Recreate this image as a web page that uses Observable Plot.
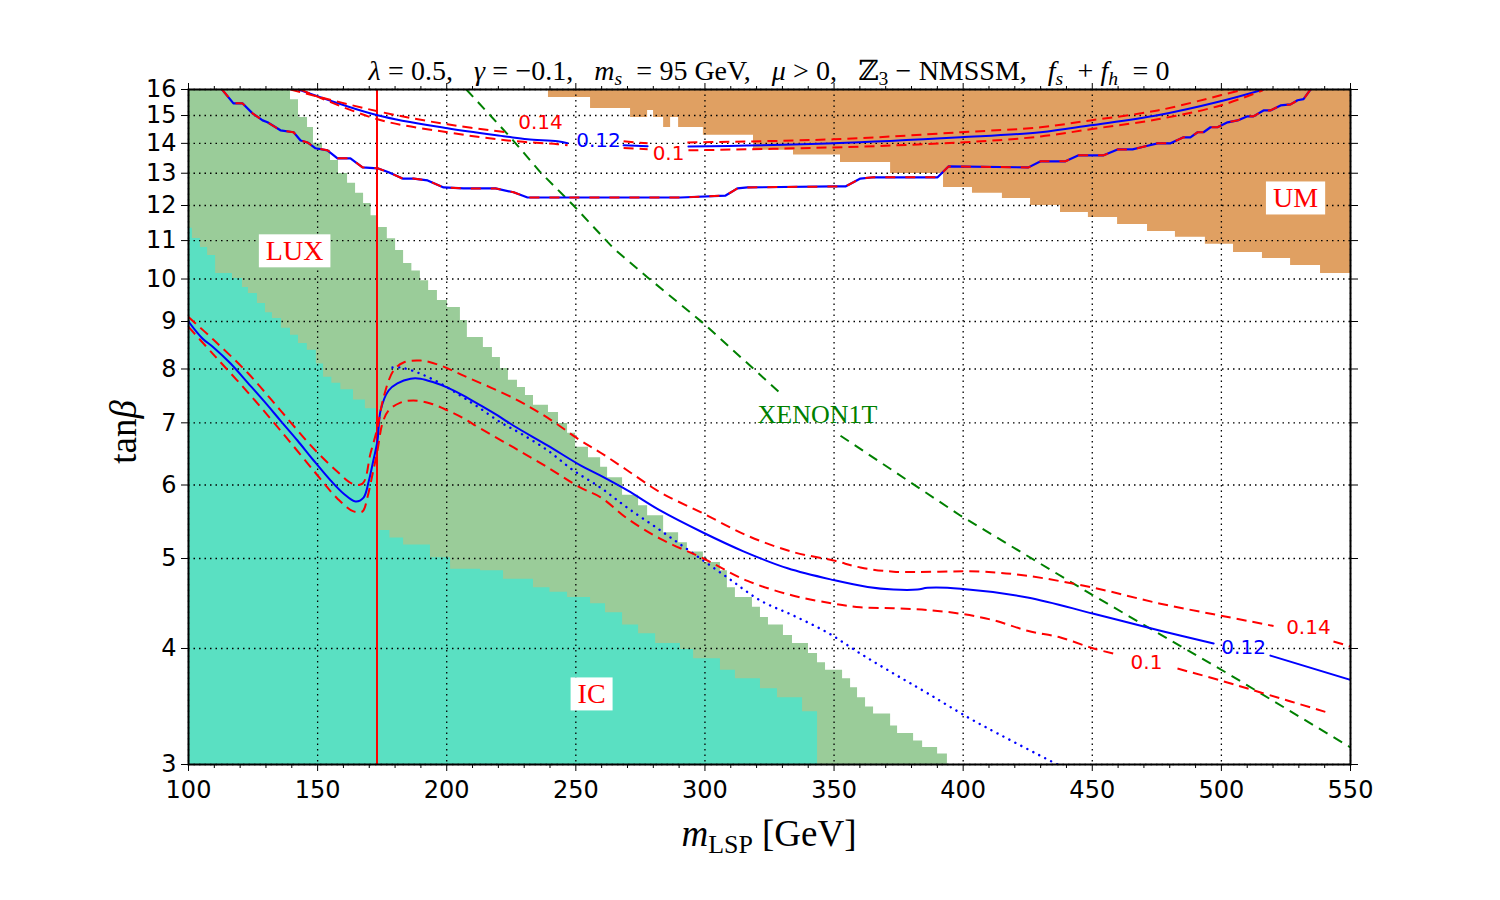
<!DOCTYPE html>
<html><head><meta charset="utf-8">
<script src="https://cdn.jsdelivr.net/npm/d3@7"></script>
<script src="https://cdn.jsdelivr.net/npm/@observablehq/plot@0.6"></script>
<style>
body{margin:0;background:#fff;}
#wrap{position:relative;width:1500px;height:900px;overflow:hidden;background:#fff;}
#wrap svg{position:absolute;left:0;top:0;}
.ov{position:absolute;font-family:"Liberation Serif","DejaVu Serif",serif;color:#000;white-space:nowrap;line-height:1;}
.ov sub{font-size:0.7em;vertical-align:-0.28em;line-height:0;}
.r{padding:0 0.26em;}
.sp{display:inline-block;width:0.75em;}
</style></head><body>
<div id="wrap">
  <div class="ov" id="title" style="left:188px;width:1162px;text-align:center;top:57px;font-size:28px;"></div>
  <div class="ov" id="xlab" style="left:188px;width:1162px;text-align:center;top:815px;font-size:37px;"></div>
  <div class="ov" id="ylab" style="left:123px;top:432px;font-size:37px;transform:translate(-50%,-50%) rotate(-90deg);"></div>
</div>
<script>
// ---------- ticks ----------
const xMajor = [100,150,200,250,300,350,400,450,500,550];
const xMinor = [110,120,130,140,160,170,180,190,210,220,230,240,260,270,280,290,310,320,330,340,360,370,380,390,410,420,430,440,460,470,480,490,510,520,530,540];
const yMajor = [3,4,5,6,7,8,9,10,11,12,13,14,15,16];

// ---------- excluded regions (stepped boundaries) ----------
const luxX = [100,135.6,139.5,142.6,146.1,148.4,151.9,155.0,158.1,161.6,164.7,167.8,170.7,173.6,177.0,180.2,183.3,186.5,189.8,193.0,196.4,200.3,205.3,208.0,214.2,217.7,220.8,223.9,227.4,230.5,233.6,239.4,243.3,246.8,249.9,254.9,259.6,262.3,268.1,274.3,277.8,284.0,289.8,293.2,299.4,306.0,308.7,311.8,318.4,321.5,324.6,330.4,333.9,340.1,343.6,346.7,353.3,356.4,359.1,362.2,365.3,371.9,374.6,380.8,384.3,390.1,393.9];
const luxY = [16,16,15.6,14.93,14.56,14.0,13.76,13.42,12.99,12.68,12.37,12.06,11.7,11.36,11.05,10.73,10.39,10.2,9.96,9.72,9.48,9.32,9.02,8.65,8.44,8.23,8.01,7.78,7.64,7.49,7.31,7.18,6.99,6.82,6.59,6.42,6.27,6.11,5.85,5.70,5.56,5.33,5.20,5.08,4.95,4.85,4.65,4.54,4.43,4.32,4.24,4.13,4.05,3.95,3.86,3.79,3.71,3.63,3.54,3.46,3.40,3.30,3.24,3.18,3.13,3.08,3.0];

const icX = [100,101.5,104.6,107.4,110.5,117.0,120.9,123.2,126.7,129.8,132.5,136.0,139.5,142.6,146.0,149.5,152.3,155.5,159.0,163.9,168.5,173.0,178.0,183.3,193.7,201.5,213.1,222,233.6,240,246.8,255.7,261.5,268.1,274.3,280.9,290.5,295.6,306.0,311.8,321.5,328.1,337.8,343.6];
const icY = [11.34,11.06,10.81,10.60,10.14,10.01,9.79,9.65,9.41,9.20,9.07,8.85,8.70,8.52,8.38,8.10,7.84,7.72,7.60,7.41,7.25,5.36,5.26,5.17,5.01,4.87,4.85,4.75,4.65,4.60,4.54,4.47,4.37,4.24,4.15,4.05,3.99,3.90,3.79,3.71,3.62,3.54,3.42,3.0];

const umX = [239.4,255.7,271.2,277.8,280.1,284.0,286.7,289.8,299.4,318.8,334.3,352.5,371.9,392.4,403.6,415.2,426.1,437.7,448.5,459.8,471.4,482.2,493.8,504.7,515.9,526.8,538.4,550];
const umY = [15.69,15.26,14.93,15.19,14.93,14.56,14.93,14.56,14.28,13.76,13.60,13.35,12.99,12.55,12.37,12.21,12.0,11.79,11.65,11.45,11.25,11.09,10.90,10.68,10.52,10.34,10.14,10.14];

// ---------- relic density contours (null = label gap) ----------
const c12LowX = [100,105.4,109.7,116.3,122.8,129.0,135.6,142.2,148.4,155.0,160.0,164.7,167.8,169.7,171.6,173.2,174.4,177.5,180.9,186.0,189.8,194.9,200.3,206.5,213.1,219.7,225.9,239.0,251.8,259.6,270.0,282.8,299.4,314.9,332.0,349.8,363.0,373.0,382.3,386.2,399.0,424.9,450.5,476.4,497.0,508,519.0,550];
const c12LowY = [9.0,8.63,8.44,8.11,7.74,7.40,7.04,6.70,6.38,6.07,5.875,5.76,5.816,6.04,6.38,6.70,7.22,7.585,7.72,7.81,7.81,7.74,7.64,7.49,7.31,7.13,6.95,6.62,6.30,6.14,5.92,5.63,5.33,5.09,4.88,4.74,4.66,4.63,4.63,4.65,4.64,4.54,4.36,4.18,4.05,null,3.93,3.70];
const r14LowX = [100,109.7,122.8,135.6,148.4,157.7,163.5,167.4,170.5,173.2,175.5,179.4,183.3,189.8,197.6,206.5,225.9,239.0,251.8,259.6,270.0,282.8,299.4,316.5,334.3,349.8,360.2,373.0,406.7,424.9,450.5,476.4,499.7,520.2,530,543.4,550];
const r14LowY = [9.1,8.6,7.93,7.22,6.57,6.2,6.02,6.02,6.49,6.92,7.45,7.97,8.13,8.17,8.07,7.87,7.44,7.09,6.70,6.50,6.22,5.89,5.59,5.29,5.08,4.975,4.89,4.84,4.84,4.79,4.65,4.47,4.34,4.23,null,4.07,4.02];
const r10LowX = [100,109.7,122.8,135.6,148.4,157.7,163.9,167.4,169.3,171.3,173.2,175.1,177.5,182.1,187.1,193.7,200.3,206.5,213.1,225.9,239.0,251.8,259.6,270.0,282.8,299.4,316.5,334.3,349.8,360.2,373.0,386.2,399.0,411.8,424.9,437.7,450.5,459.8,470,483.0,499.7,515.2,542.3];
const r10LowY = [8.88,8.29,7.56,6.87,6.22,5.80,5.62,5.62,5.82,6.17,6.54,6.99,7.22,7.36,7.40,7.345,7.22,7.08,6.90,6.585,6.27,5.96,5.82,5.52,5.25,5.0,4.73,4.56,4.47,4.43,4.42,4.40,4.36,4.29,4.18,4.11,4.0,3.94,null,3.806,3.695,3.587,3.405];
const dotX = [179.0,182.1,188.7,196.8,205.3,213.1,220.8,228.6,239.0,249.1,259.6,270.0,282.8,295.6,308.7,321.5,334.3,347.5,360.2,373.0,386.2,404.0,436.5];
const dotY = [8.03,8.03,7.93,7.74,7.49,7.25,7.01,6.82,6.54,6.22,5.96,5.67,5.36,5.06,4.77,4.505,4.34,4.16,3.95,3.76,3.58,3.346,3.0];
// upper smooth branch
const c12TopX = [142.6,173.2,200.3,222.8,231.3,242.9,246.8,257,268.5,277.8,285,293.6,349.8,399.0,430.0,449.3,475.3,499.7,516.3];
const c12TopY = [16,15.01,14.53,14.24,14.14,14.07,14.0,null,13.93,13.90,null,13.89,14.0,14.21,14.39,14.64,15.01,15.54,16];
const r14TopX = [139.5,173.2,200.3,223.5,245,268.5,277.8,285,293.2,349.8,399.0,430.0,449.3,475.3,499.7,508.6];
const r14TopY = [16,15.16,14.675,14.39,null,14.07,14.0,null,14.03,14.14,14.39,14.57,14.82,15.19,15.77,16];
const r10TopX = [143.4,173.2,200.3,223.5,242.9,246.8,257,268.5,277.8,285,293.6,349.8,399.0,430.0,449.3,475.3,499.7,516.0];
const r10TopY = [16,14.86,14.39,14.10,13.97,13.93,null,13.84,13.80,null,13.76,13.86,14.03,14.24,14.50,14.86,15.38,15.97];
// upper stepped branch (0.1, 0.12, 0.14 coincide)
const stepX = [113.0,117.4,120.9,124.8,128.7,130.6,135.6,140.7,143.4,146.1,149.2,153.8,157.7,162.7,167.4,173.2,177.5,182.9,187.1,192.6,198.8,206.5,218.9,225.9,231.3,290.5,308.0,312.6,316.5,349.8,354.4,360.2,365.3,390.1,394.3,425.3,430.0,439.6,444.7,454.4,459.8,465.6,470.6,475.3,480.3,485.3,488.0,490.8,493.1,495.8,498.5,502.4,506.3,510.1,512.4,516.3,519.0,522.9,526.8,529.5,531.8,534.5];
const stepY = [16,15.46,15.46,15.08,14.82,14.75,14.46,14.39,14.10,14.03,13.83,13.76,13.49,13.49,13.19,13.16,13.03,12.83,12.83,12.77,12.55,12.52,12.52,12.40,12.24,12.24,12.30,12.52,12.55,12.58,12.58,12.83,12.87,12.87,13.22,13.19,13.39,13.39,13.59,13.59,13.79,13.79,13.90,14.0,14.0,14.21,14.21,14.39,14.39,14.57,14.57,14.75,14.82,14.97,14.97,15.19,15.19,15.38,15.42,15.58,15.62,16.0];

// XENON1T projected limit
const xenonX = [207.6,224.7,236.3,249.1,264.6,277.8,299.4,329.3,340,352.5,399.0,450.5,502.4,550];
const xenonY = [16,14.21,13.03,12.0,10.79,10.04,8.96,7.53,null,6.78,5.56,4.56,3.76,3.13];

// top quark mass line
const mTop = [173];

// ---------- labels ----------
const regionNames = ["LUX","IC","UM"];
const regionX = [141.1,256.1,528.7];
const regionY = [10.71,3.569,12.21];
const xenonLabel = ["XENON1T"], xenonLabelX = [343.6], xenonLabelY = [7.147];
const contourText = ["0.14","0.12","0.1","0.14","0.12","0.1"];
const contourX = [236.3,258.8,285.9,533.7,508.6,471.0];
const contourY = [14.75,14.10,13.65,4.21,4.01,3.86];
const contourColor = ["red","blue","red","red","blue","red"];

const titleHTML = '<i>λ</i><span class="r">=</span>0.5,<span class="sp"></span><i>γ</i><span class="r">=</span>−0.1,<span class="sp"></span><i>m<sub>s</sub></i> <span class="r">=</span>95 GeV,<span class="sp"></span><i>μ</i><span class="r">&gt;</span>0,<span class="sp"></span>ℤ<sub>3</sub><span class="r">−</span>NMSSM,<span class="sp"></span><i>f<sub>s</sub></i> <span class="r">+</span><i>f<sub>h</sub></i> <span class="r">=</span>0';
const xLabelHTML = '<i>m</i><sub>LSP</sub> [GeV]';
const yLabelHTML = 'tan<i>β</i>';

// ---------- build ----------
const rows = (xs, ys) => xs.map((x, i) => ({x, y: ys[i]}));
const RED = "#ff0000", BLUE = "#0000ff", GREEN = "#008000";
const dash = {stroke: RED, strokeWidth: 2, strokeDasharray: "10,6", strokeLinecap: "butt", clip: true};

const chart = Plot.plot({
  width: 1500, height: 900,
  marginLeft: 188, marginRight: 150, marginTop: 89, marginBottom: 136,
  style: {fontFamily: "DejaVu Sans", color: "black", background: "transparent", overflow: "visible"},
  x: {domain: [100, 550]},
  y: {type: "log", domain: [3, 16]},
  marks: [
    Plot.areaY(rows(luxX, luxY), {x: "x", y1: 3, y2: "y", curve: "step-after", fill: "#9acc99"}),
    Plot.areaY(rows(icX, icY), {x: "x", y1: 3, y2: "y", curve: "step-after", fill: "#5ae0c2"}),
    Plot.areaY(rows(umX, umY), {x: "x", y1: "y", y2: 16, curve: "step-after", fill: "#e0a062"}),
    Plot.gridX(xMajor, {stroke: "black", strokeOpacity: 1, strokeWidth: 1.3, strokeDasharray: "1.5,4"}),
    Plot.gridY(yMajor, {stroke: "black", strokeOpacity: 1, strokeWidth: 1.3, strokeDasharray: "1.5,4"}),
    Plot.ruleX(mTop, {stroke: RED, strokeWidth: 2}),
    Plot.line(rows(xenonX, xenonY), {x: "x", y: "y", stroke: GREEN, strokeWidth: 2, strokeDasharray: "10,7", strokeLinecap: "butt", clip: true}),
    Plot.line(rows(dotX, dotY), {x: "x", y: "y", curve: "catmull-rom", stroke: BLUE, strokeWidth: 2.4, strokeDasharray: "0.1,6.6", strokeLinecap: "round", clip: true}),
    Plot.line(rows(c12LowX, c12LowY), {x: "x", y: "y", curve: "catmull-rom", stroke: BLUE, strokeWidth: 2, clip: true}),
    Plot.line(rows(c12TopX, c12TopY), {x: "x", y: "y", curve: "catmull-rom", stroke: BLUE, strokeWidth: 2, clip: true}),
    Plot.line(rows(stepX, stepY), {x: "x", y: "y", stroke: BLUE, strokeWidth: 2.2, clip: true}),
    Plot.line(rows(r14LowX, r14LowY), {x: "x", y: "y", curve: "catmull-rom", ...dash}),
    Plot.line(rows(r10LowX, r10LowY), {x: "x", y: "y", curve: "catmull-rom", ...dash}),
    Plot.line(rows(r14TopX, r14TopY), {x: "x", y: "y", curve: "catmull-rom", ...dash}),
    Plot.line(rows(r10TopX, r10TopY), {x: "x", y: "y", curve: "catmull-rom", ...dash}),
    Plot.line(rows(stepX, stepY), {x: "x", y: "y", ...dash, strokeDasharray: "10,10"}),
    Plot.text(contourText.map((t, i) => ({t, x: contourX[i], y: contourY[i], c: contourColor[i]})),
      {x: "x", y: "y", text: "t", fill: "c", fontSize: 20, fontFamily: "DejaVu Sans"}),
    Plot.text(xenonLabel.map((t, i) => ({t, x: xenonLabelX[i], y: xenonLabelY[i]})),
      {x: "x", y: "y", text: "t", fill: GREEN, fontSize: 26, fontFamily: "Liberation Serif"}),
    Plot.text(regionNames.map((t, i) => ({t, x: regionX[i], y: regionY[i]})),
      {x: "x", y: "y", text: "t", fill: RED, fontSize: 28, fontFamily: "Liberation Serif"}),
    Plot.frame({stroke: "black", strokeWidth: 2}),
    Plot.axisX(xMajor, {anchor: "bottom", tickSize: 7, tickPadding: 9, fontSize: 24, label: null, tickFormat: d => String(d)}),
    Plot.axisX(xMinor, {anchor: "bottom", tickSize: 4, label: null, tickFormat: () => ""}),
    Plot.axisX(xMajor, {anchor: "top", tickSize: 7, label: null, tickFormat: () => ""}),
    Plot.axisX(xMinor, {anchor: "top", tickSize: 4, label: null, tickFormat: () => ""}),
    Plot.axisY(yMajor, {anchor: "left", tickSize: 7, tickPadding: 5, fontSize: 24, label: null, tickFormat: d => String(d)}),
    Plot.axisY(yMajor, {anchor: "right", tickSize: 7, label: null, tickFormat: () => ""})
  ]
});

const wrap = document.getElementById("wrap");
wrap.insertBefore(chart, wrap.firstChild);
document.getElementById("title").innerHTML = titleHTML;
document.getElementById("xlab").innerHTML = xLabelHTML;
document.getElementById("ylab").innerHTML = yLabelHTML;

// white boxes behind the region labels
d3.select(chart).selectAll("text").filter(function () {
  return regionNames.includes(this.textContent);
}).each(function () {
  const b = this.getBBox();
  const r = document.createElementNS("http://www.w3.org/2000/svg", "rect");
  r.setAttribute("x", b.x - 7); r.setAttribute("y", b.y - 1);
  r.setAttribute("width", b.width + 14); r.setAttribute("height", b.height + 2);
  r.setAttribute("fill", "white");
  const t = this.getAttribute("transform"); if (t) r.setAttribute("transform", t);
  this.parentNode.insertBefore(r, this);
});
</script>
</body></html>
